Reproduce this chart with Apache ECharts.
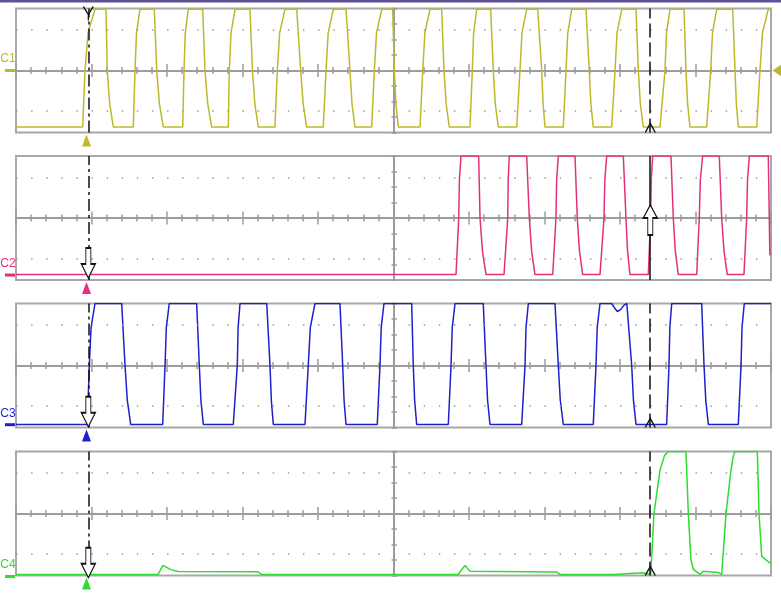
<!DOCTYPE html>
<html>
<head>
<meta charset="utf-8">
<title>scope</title>
<script src="https://cdn.jsdelivr.net/npm/echarts@6.0.0/dist/echarts.min.js"></script>
<style>
html, body { margin: 0; padding: 0; background: #fff; }
#chart { width: 781px; height: 597px; }
</style>
</head>
<body>
<div id="chart"></div>
<script>
// time in screen divisions (0..10), amplitude in minor ticks (-4..4 in each trace window)
const MID = 5;
const channelNames = ['C1', 'C2', 'C3', 'C4'];
const channelColors = ['#bdb92c', '#e2307e', '#1f1fcc', '#2fdc2f'];

// edges: [start, centre crossing, knee (80% of swing), end]
const c1Level = [-3.65, 3.95];
const c1Rise = [[0.883,0.914,0.954,1.046],[1.554,1.576,1.596,1.642],[2.208,2.225,2.242,2.282],[2.812,2.825,2.848,2.901],
  [3.430,3.461,3.492,3.563],[4.070,4.106,4.135,4.203],[4.711,4.746,4.775,4.844],[5.351,5.387,5.416,5.483],
  [6.013,6.044,6.061,6.102],[6.632,6.675,6.702,6.764],[7.249,7.285,7.308,7.360],[7.890,7.934,7.961,8.023],
  [8.530,8.596,8.616,8.662],[9.148,9.201,9.225,9.281],[9.811,9.854,9.887,9.964]];
const c1Fall = [[1.192,1.209,1.241,1.289],[1.832,1.864,1.899,1.951],[2.473,2.503,2.539,2.592],[3.099,3.132,3.163,3.209],
  [3.718,3.771,3.803,3.850],[4.371,4.424,4.450,4.490],[4.989,5.011,5.032,5.064],[5.638,5.669,5.697,5.739],
  [6.287,6.322,6.348,6.388],[6.910,6.963,6.981,7.007],[7.550,7.593,7.614,7.646],[8.212,8.243,8.269,8.309],
  [8.848,8.874,8.895,8.927],[9.493,9.523,9.541,9.567]];

const c2Level = [-3.65, 4];
const c2Rise = [[5.828,5.864,5.873,5.894],[6.464,6.513,6.519,6.534],[7.109,7.152,7.161,7.183],[7.735,7.788,7.799,7.824],
  [8.375,8.406,8.414,8.433],[9.016,9.050,9.064,9.095],[9.642,9.678,9.689,9.713]];
const c2Fall = [[6.128,6.146,6.178,6.225],[6.764,6.799,6.829,6.874],[7.404,7.434,7.463,7.506],[8.044,8.079,8.100,8.132],
  [8.675,8.706,8.732,8.772],[9.315,9.347,9.377,9.421]];
const c2Tail = [[9.964, 4], [9.985, -2.4]];

const c3Level = [-3.8, 4];
const c3Rise = [[0.944,0.971,0.994,1.046],[1.943,1.974,1.991,2.030],[2.878,2.931,2.942,2.967],[3.828,3.871,3.898,3.960],
  [4.785,4.821,4.837,4.874],[5.726,5.762,5.778,5.815],[6.698,6.742,6.755,6.786],[7.646,7.682,7.698,7.735],
  [8.618,8.649,8.660,8.685],[9.567,9.603,9.616,9.646]];
const c3Fall = [[1.400,1.444,1.474,1.519],[2.393,2.428,2.449,2.481],[3.321,3.364,3.382,3.408],[4.291,4.327,4.345,4.371],
  [5.241,5.262,5.280,5.307],[6.189,6.225,6.246,6.278],[7.139,7.183,7.209,7.249],[8.110,8.155,8.178,8.212],
  [9.082,9.113,9.136,9.170]];
const c3Dip = [[7.890, 4], [7.930, 3.7], [7.967, 3.48], [8.01, 3.62], [8.05, 3.88], [8.09, 4]];

const c4Points = [[0,-3.93],[1.881,-3.93],[1.947,-3.35],[2.05,-3.62],[2.146,-3.74],[3.205,-3.76],[3.25,-3.93],
  [5.854,-3.93],[5.947,-3.35],[6.013,-3.72],[7.162,-3.78],[7.205,-3.93],[7.907,-3.93],[7.92,-3.82],[8.305,-3.82],
  [8.32,-3.93],[8.407,-3.93],[8.450,0],[8.530,2.8],[8.590,3.75],[8.640,4],[8.874,4],[8.905,0],[8.940,-3.0],
  [8.971,-3.6],[9.060,-3.93],[9.10,-3.72],[9.30,-3.8],[9.347,-3.93],[9.404,0],[9.470,2.8],[9.500,3.7],[9.523,4],
  [9.819,4],[9.841,0],[9.877,-2.77],[9.987,-3.2]];

const groundLevel = [0, -3.68, -3.82, -4];
const cursorT = [0.958, 8.401];
const trigT = 0.934;
const arrowLevel = [null, -2.9, -2.98, -3.18];
const upArrowLevel = -0.13;
const KNEE = 0.8;

function buildWave(level, rises, falls, extra, tail) {
  const lo = level[0], hi = level[1];
  const edges = rises.map(e => [e, lo, hi]).concat(falls.map(e => [e, hi, lo]))
    .sort((a, b) => a[0][0] - b[0][0]);
  let pts = [[0, edges[0][1]]];
  edges.forEach(([e, from, to]) => {
    pts.push([e[0], from], [e[1], 0], [e[2], from + KNEE * (to - from)], [e[3], to]);
  });
  if (extra) pts = pts.concat(extra).sort((a, b) => a[0] - b[0]);
  if (tail) pts = pts.concat(tail);
  else pts.push([10, edges[edges.length - 1][2]]);
  return pts.map(p => [p[0] - MID, p[1]]);
}

const waves = [
  buildWave(c1Level, c1Rise, c1Fall),
  buildWave(c2Level, c2Rise, c2Fall, null, c2Tail),
  buildWave(c3Level, c3Rise, c3Fall, c3Dip),
  c4Points.map(p => [p[0] - MID, p[1]])
];

const GRAT = '#9c9c9c';
const gridTop = [8.5, 156, 303.5, 451.5];
const gridH = 124;

const downArrow = 'path://M4.5,0 L9.5,0 L9.5,16 L14,16 L7,30 L0,16 L4.5,16 Z';
const upArrow = 'path://M7,0 L14,13 L9.5,13 L9.5,30 L4.5,30 L4.5,13 L0,13 Z';
const vMark = 'path://M0,0 L5,8 L10,0 M5,8 L5,14';
const chevron = 'path://M0,9 L5,0 L10,9';

const xAxis = [], yAxis = [];
gridTop.forEach((t, i) => {
  [true, false].forEach(inside => {
    xAxis.push({
      type: 'value', gridIndex: i, min: -5, max: 5, interval: 1, position: 'bottom',
      axisLine: { show: true, onZero: true, onZeroAxisIndex: 2 * i, lineStyle: { color: GRAT, width: 2 } },
      axisTick: { show: true, inside: inside, length: 6.5, lineStyle: { color: GRAT, width: 1.5 } },
      minorTick: { show: true, splitNumber: 5, length: 3.5, lineStyle: { color: GRAT, width: 1.5 } },
      axisLabel: { show: false }, splitLine: { show: false }, minorSplitLine: { show: false }
    });
    yAxis.push({
      type: 'value', gridIndex: i, min: -4, max: 4, interval: 1, position: 'left',
      axisLine: { show: true, onZero: true, onZeroAxisIndex: 2 * i, lineStyle: { color: GRAT, width: 2 } },
      axisTick: { show: true, inside: inside, length: inside ? 3.5 : 2, lineStyle: { color: GRAT, width: 1.5 } },
      axisLabel: { show: false }, splitLine: { show: false }
    });
  });
});

const series = waves.map((data, i) => {
  const color = channelColors[i];
  const lines = [
    { yAxis: 2.6 }, { yAxis: -2.6 },
    { xAxis: cursorT[0] - MID, lineStyle: { color: '#111', width: 1.5, type: [12, 4, 3, 4] } },
    { xAxis: cursorT[1] - MID, lineStyle: { color: '#111', width: 1.5, type: i === 1 ? 'solid' : [14, 5] } }
  ];
  const points = [
    {
      coord: [-5, groundLevel[i]], symbol: 'rect', symbolSize: [10, 3], symbolOffset: [-6, i === 3 ? 1 : 0],
      itemStyle: { color: color },
      label: { show: true, formatter: channelNames[i], position: 'top', distance: 4, offset: [-2, 0],
        color: color, fontSize: 12, fontFamily: '"Liberation Sans Narrow", "Liberation Sans", sans-serif' }
    },
    { coord: [trigT - MID, -4], symbol: 'triangle', symbolSize: [9, 12], symbolOffset: [0, 8],
      itemStyle: { color: color } }
  ];
  if (i === 0) {
    points.push({ coord: [cursorT[0] - MID, 4], symbol: vMark, symbolSize: [10, 14], symbolOffset: [0, 5],
      itemStyle: { color: 'none', borderColor: '#111', borderWidth: 1.5 } });
    points.push({ coord: [5, 0], symbol: 'triangle', symbolSize: [12, 9], symbolRotate: 90, symbolOffset: [6, 0],
      itemStyle: { color: color } });
  } else {
    points.push({ coord: [cursorT[0] - MID, arrowLevel[i]], symbol: downArrow, symbolSize: [14, 30],
      itemStyle: { color: '#fff', borderColor: '#111', borderWidth: 1.3 } });
  }
  if (i === 1) {
    points.push({ coord: [cursorT[1] - MID, upArrowLevel], symbol: upArrow, symbolSize: [14, 30],
      itemStyle: { color: '#fff', borderColor: '#111', borderWidth: 1.3 } });
  } else {
    points.push({ coord: [cursorT[1] - MID, -4], symbol: chevron, symbolSize: [10, 9], symbolOffset: [0, -4.5],
      itemStyle: { color: 'none', borderColor: '#111', borderWidth: 1.3 } });
  }
  return {
    type: 'line', name: channelNames[i], xAxisIndex: 2 * i, yAxisIndex: 2 * i, data: data,
    showSymbol: false, symbol: 'none', smooth: false, clip: true, silent: true, animation: false,
    lineStyle: { color: color, width: 1.5 }, itemStyle: { color: color },
    markLine: {
      silent: true, symbol: ['none', 'none'], animation: false, label: { show: false },
      lineStyle: { color: GRAT, width: 1.5, type: [1.5, 13.6] },
      data: lines
    },
    markPoint: { silent: true, animation: false, label: { show: false }, data: points }
  };
});

const chart = echarts.init(document.getElementById('chart'));
chart.setOption({
  backgroundColor: '#fff',
  animation: false,
  grid: gridTop.map(t => ({
    left: 16, right: 10, top: t, height: gridH, show: true,
    borderColor: '#a8a8a8', borderWidth: 2, backgroundColor: 'transparent',
    containLabel: false, outerBoundsMode: 'none'
  })),
  xAxis: xAxis,
  yAxis: yAxis,
  series: series,
  graphic: [{ type: 'rect', left: 0, top: 0, shape: { width: 781, height: 2.5 }, style: { fill: '#5d5395' } }]
});
window.addEventListener('resize', function () {
  chart.resize();
});
</script>
</body>
</html>
